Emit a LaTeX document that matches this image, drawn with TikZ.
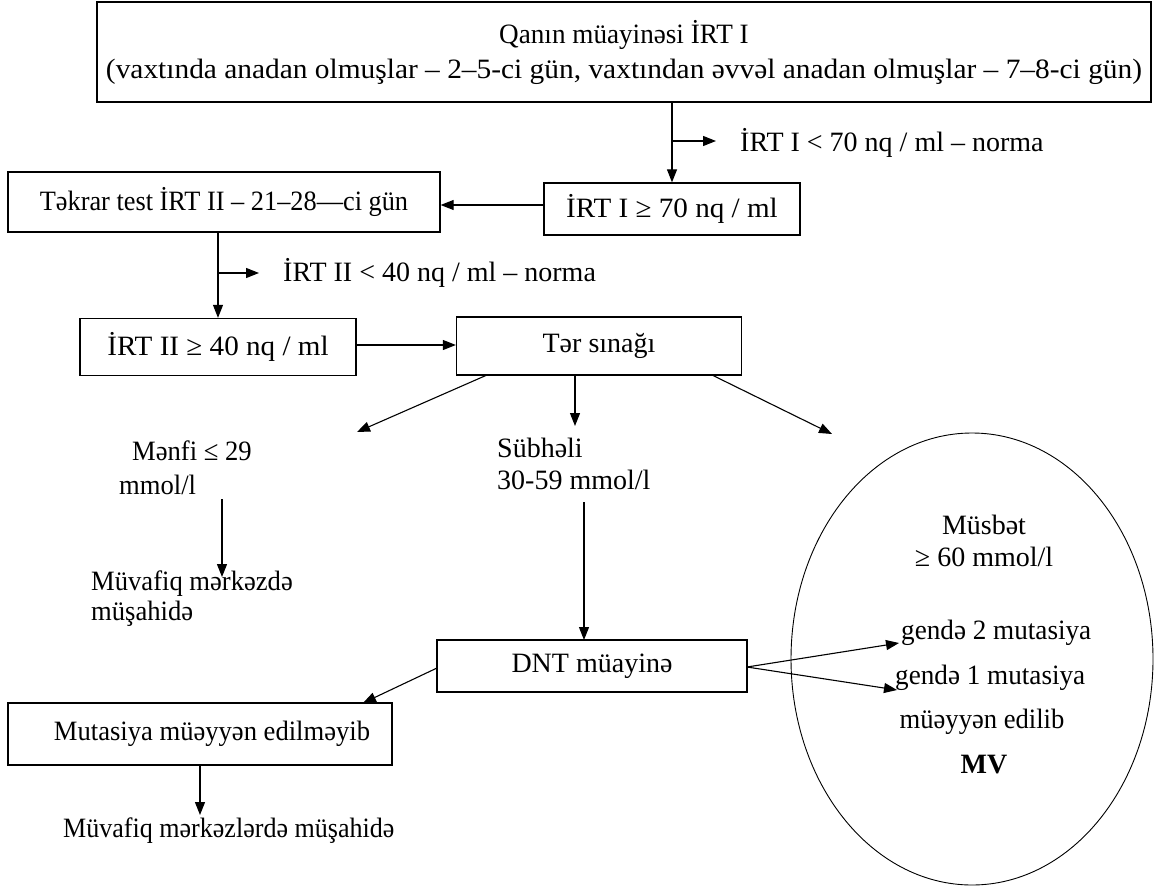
\documentclass[tikz,border=0pt]{standalone}
\usepackage{fontspec}
\usepackage{graphicx}
\setmainfont{Liberation Serif}
\usetikzlibrary{arrows.meta,shapes.geometric}
\newcommand{\hsq}[2]{\scalebox{#1}[1]{#2}}
\begin{document}
\begin{tikzpicture}[x=1pt,y=-1pt,
  box/.style={draw, line width=1.3pt, inner sep=0pt, align=center},
  txt/.style={inner sep=0pt, anchor=west, align=left},
  ctxt/.style={inner sep=0pt, align=center},
  arr/.style={-{Triangle[length=13pt,width=10pt]}, line width=1.1pt},
  every node/.style={font=\fontsize{28}{35}\selectfont}]
\useasboundingbox (0,0) rectangle (1161,888);
% boxes
\node[box, minimum width=1054, minimum height=100] (top) at (624,52)
  {\hsq{0.97}{Qanın müayinəsi İRT I}\\\hsq{1.05}{(vaxtında anadan olmuşlar – 2–5-ci gün, vaxtından əvvəl anadan olmuşlar – 7–8-ci gün)}};
\node[box, minimum width=256, minimum height=52] (irt1) at (672,209) {\hsq{1.04}{İRT I ≥ 70 nq / ml}};
\node[box, minimum width=432, minimum height=60] (tekrar) at (224,202) {\hsq{0.94}{Təkrar test İRT II – 21–28—ci gün}};
\node[box, minimum width=276, minimum height=57] (irt2) at (218,347) {\hsq{1.04}{İRT II ≥ 40 nq / ml}};
\node[box, minimum width=285, minimum height=58] (ter) at (599,346) {Tər sınağı};
\node[box, minimum width=310, minimum height=52] (dnt) at (592,666) {DNT müayinə};
\node[box, minimum width=384, minimum height=62] (mut) at (200,734) {\hspace*{24pt}\hsq{0.95}{Mutasiya müəyyən edilməyib}};
\node[draw, line width=0.9pt, ellipse, minimum width=362, minimum height=452, inner sep=0pt] (ell) at (972,659) {};
% texts
\node[txt] (n1) at (740,143) {İRT I < 70 nq / ml – norma};
\node[txt] (n2) at (283,273) {İRT II < 40 nq / ml – norma};
\node[txt] (menfi) at (132,451) {\hsq{0.95}{Mənfi ≤ 29}};
\node[txt] (mmol) at (119,485) {\hsq{0.95}{mmol/l}};
\node[txt, font=\fontsize{28}{30}\selectfont] (muv1) at (91,599) {\hsq{0.95}{Müvafiq mərkəzdə}\\\hsq{0.95}{müşahidə}};
\node[txt, font=\fontsize{28}{32}\selectfont] (sub) at (497,464) {Sübhəli\\30-59 mmol/l};
\node[txt] (muv2) at (63,831) {\hsq{0.93}{Müvafiq mərkəzlərdə müşahidə}};
\node[ctxt, font=\fontsize{28}{32}\selectfont] (musb) at (984,541) {Müsbət\\≥ 60 mmol/l};
\node[txt] (g2) at (901,633) {\hsq{0.97}{gendə 2 mutasiya}};
\node[txt] (g1) at (895,678) {\hsq{0.97}{gendə 1 mutasiya}};
\node[ctxt] (mue) at (982,722) {\hsq{0.95}{müəyyən edilib}};
\node[ctxt, font=\fontsize{28}{34}\selectfont\bfseries] (mv) at (984,765) {MV};
% coordinates
\coordinate (b1) at (673,141);
\coordinate (b1e) at (716,141);
\coordinate (b2) at (218,273);
\coordinate (b2e) at (259,273);
\coordinate (t1) at (487,375);
\coordinate (t1e) at (357,432);
\coordinate (t2) at (575,375);
\coordinate (t2e) at (575,426);
\coordinate (t3) at (712,375);
\coordinate (t3e) at (832,434);
\coordinate (m1) at (222,499);
\coordinate (m1e) at (222,577);
\coordinate (s1) at (584,502);
\coordinate (s1e) at (584,640);
\coordinate (d0) at (747,667);
\coordinate (d2) at (899,643);
\coordinate (d1) at (897,690);
\coordinate (dm) at (437,668);
\coordinate (dme) at (363,703);
% connectors
\draw[arr] (top.south -| irt1.north) -- (irt1.north);
\draw[arr] (b1) -- (b1e);
\draw[arr] (irt1.west |- 0,205) -- (tekrar.east |- 0,205);
\draw[arr] (tekrar.south -| irt2.north) -- (irt2.north);
\draw[arr] (b2) -- (b2e);
\draw[arr] (irt2.east |- 0,345) -- (ter.west |- 0,345);
\draw[arr] (t1) -- (t1e);
\draw[arr] (t2) -- (t2e);
\draw[arr] (t3) -- (t3e);
\draw[arr] (m1) -- (m1e);
\draw[arr] (s1) -- (s1e);
\draw[arr] (d0) -- (d2);
\draw[arr] (d0) -- (d1);
\draw[arr] (dm) -- (dme);
\draw[arr] (mut.south) -- (mut.south |- 0,815);
\end{tikzpicture}
\end{document}
